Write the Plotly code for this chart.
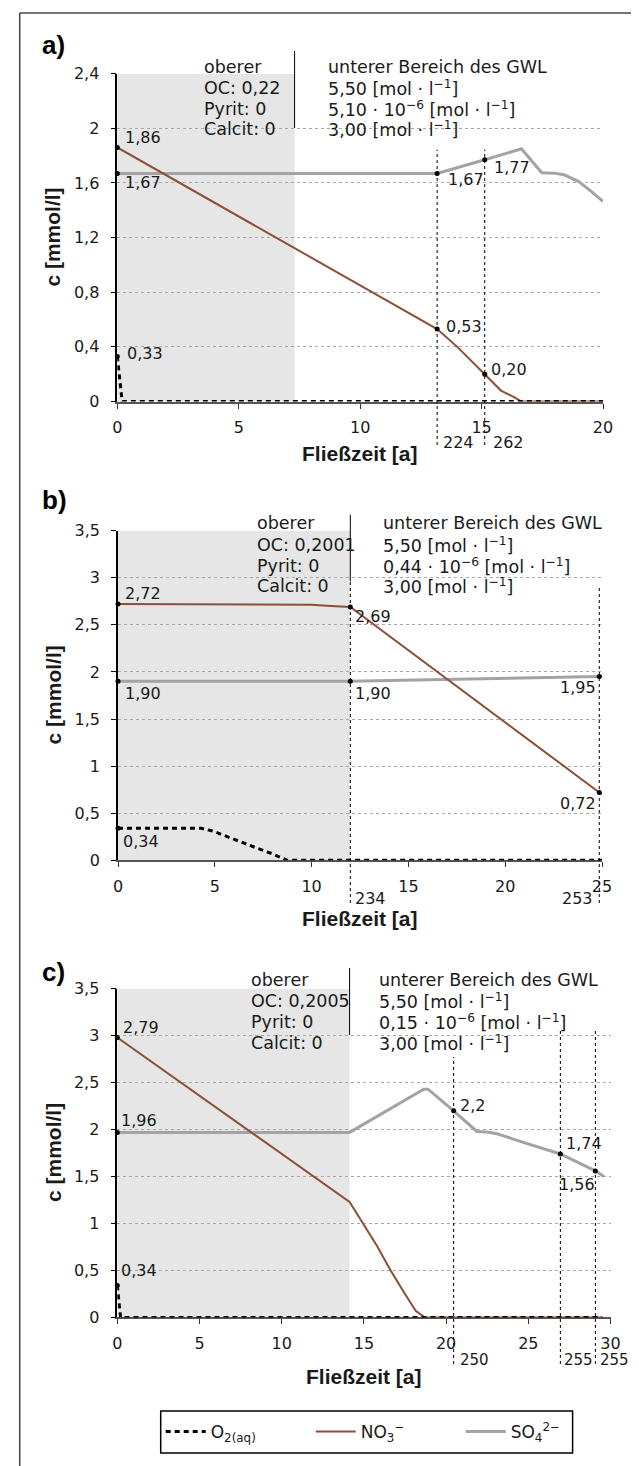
import plotly.graph_objects as go

W, H = 639, 1466
FONT = "DejaVu Sans"
BFONT = "Liberation Sans"

# ---------------- data ----------------
# panel a
a_o2_x = [0, 0.1, 0.2, 20]
a_o2_y = [0.33, 0.15, 0.0, 0.0]
a_no3_x = [0, 13.17, 14.0, 15.13, 15.8, 16.3, 16.65, 20]
a_no3_y = [1.86, 0.53, 0.40, 0.20, 0.08, 0.035, 0.0, 0.0]
a_so4_x = [0, 13.17, 15.13, 16.64, 17.48, 18.0, 18.4, 19.0, 19.5, 20]
a_so4_y = [1.67, 1.67, 1.77, 1.85, 1.675, 1.672, 1.66, 1.61, 1.54, 1.465]
a_pts_x = [0, 0, 0, 13.17, 15.13, 13.17, 15.13]
a_pts_y = [1.86, 1.67, 0.33, 1.67, 1.77, 0.53, 0.20]
a_pts_lbl = ["1,86", "1,67", "0,33", "1,67", "1,77", "0,53", "0,20"]
a_mark_x = [13.17, 15.13]
a_mark_lbl = ["224", "262"]
a_upper_end = 7.3
a_hdr_left = ["oberer", "OC: 0,22", "Pyrit: 0", "Calcit: 0"]
a_hdr_right = ["unterer Bereich des GWL", "5,50 [mol · l<sup>−1</sup>]",
               "5,10 · 10<sup>−6</sup> [mol · l<sup>−1</sup>]", "3,00 [mol · l<sup>−1</sup>]"]

# panel b
b_o2_x = [0, 4.3, 4.9, 5.7, 6.5, 7.25, 8.0, 8.75, 25]
b_o2_y = [0.34, 0.34, 0.31, 0.245, 0.185, 0.123, 0.067, 0.0, 0.0]
b_no3_x = [0, 8.85, 10.0, 11.0, 12.0, 24.86, 25]
b_no3_y = [2.72, 2.72, 2.712, 2.70, 2.69, 0.72, 0.70]
b_so4_x = [0, 12.0, 24.86, 25]
b_so4_y = [1.90, 1.90, 1.95, 1.95]
b_pts_x = [0, 12.0, 0, 12.0, 24.86, 24.86, 0]
b_pts_y = [2.72, 2.69, 1.90, 1.90, 1.95, 0.72, 0.34]
b_pts_lbl = ["2,72", "2,69", "1,90", "1,90", "1,95", "0,72", "0,34"]
b_mark_x = [12.0, 24.86]
b_mark_lbl = ["234", "253"]
b_upper_end = 12.0
b_hdr_left = ["oberer", "OC: 0,2001", "Pyrit: 0", "Calcit: 0"]
b_hdr_right = ["unterer Bereich des GWL", "5,50 [mol · l<sup>−1</sup>]",
               "0,44 · 10<sup>−6</sup> [mol · l<sup>−1</sup>]", "3,00 [mol · l<sup>−1</sup>]"]

# panel c
c_o2_x = [0, 0.1, 0.2, 29.5]
c_o2_y = [0.34, 0.15, 0.0, 0.0]
c_no3_x = [0, 14.13, 15.8, 16.66, 17.5, 18.15, 18.7, 29.5]
c_no3_y = [2.98, 1.23, 0.76, 0.49, 0.25, 0.07, 0.0, 0.0]
c_so4_x = [0, 14.13, 18.64, 18.9, 20.46, 21.87, 22.5, 23.1, 24.84, 26.95, 29.08, 29.6]
c_so4_y = [1.97, 1.97, 2.43, 2.43, 2.20, 1.98, 1.975, 1.955, 1.856, 1.74, 1.56, 1.50]
c_pts_x = [0, 0, 0, 20.46, 26.95, 29.08]
c_pts_y = [2.98, 1.97, 0.34, 2.20, 1.74, 1.56]
c_pts_lbl = ["2,79", "1,96", "0,34", "2,2", "1,74", "1,56"]
c_mark_x = [20.46, 26.95, 29.08]
c_mark_lbl = ["250", "255", "255"]
c_upper_end = 14.13
c_hdr_left = ["oberer", "OC: 0,2005", "Pyrit: 0", "Calcit: 0"]
c_hdr_right = ["unterer Bereich des GWL", "5,50 [mol · l<sup>−1</sup>]",
               "0,15 · 10<sup>−6</sup> [mol · l<sup>−1</sup>]", "3,00 [mol · l<sup>−1</sup>]"]

panel_letters = ["a)", "b)", "c)"]
x_ranges = [20, 25, 30]
y_ranges = [2.4, 3.5, 3.5]
y_dticks = [0.4, 0.5, 0.5]
series_names = ["O<sub>2(aq)</sub>", "NO<sub>3</sub><sup>−</sup>", "SO<sub>4</sub><sup>2−</sup>"]

# ---------------- layout / style (pixels) ----------------
geo = [
    dict(x0=109.3, x1=595.0, y0=65.7, y1=393.5, letter=(32, 37), hdr=(193.6, 318, [58.5, 80, 101, 121]),
         div=(43, 120), dots=[(141.7, 437), (141.7, 437)], mark_y=435, mark_size=16, title_y=446,
         mark_pos=[("left", 4), ("left", 6)],
         lbl_pos=[("left", 6, 10), ("left", 6, -9), ("left", 8, 3), ("left", 9, -6),
                  ("left", 7, -8), ("left", 7, 3), ("left", 4, 5)]),
    dict(x0=110.0, x1=594.0, y0=522.6, y1=852.3, letter=(32, 492), hdr=(246.6, 373, [515, 537, 558, 578]),
         div=(506.7, 573), dots=[(573, 895), (580, 895)], mark_y=890, mark_size=16, title_y=910,
         mark_pos=[("left", 3), ("right", -4)],
         lbl_pos=[("left", 5, 11), ("left", 3, -10), ("left", 5, -12), ("left", 3, -12),
                  ("right", -1, -11), ("right", -1, -11), ("left", 3, -13)]),
    dict(x0=109.3, x1=602.5, y0=980.7, y1=1309.4, letter=(32, 964), hdr=(240.5, 369, [971.7, 993, 1014, 1035]),
         div=(960, 1027), dots=[(1049, 1356), (1022.7, 1356), (1022.7, 1356)], mark_y=1352,
         mark_size=15, title_y=1368,
         mark_pos=[("left", 4), ("left", 2), ("left", 3)],
         lbl_pos=[("left", 4, 10), ("left", 2, 12), ("left", 2, 15), ("left", 4, 5),
                  ("left", 4, 10), ("right", 2, -14)]),
]
LEGEND_BOX = (152.7, 1403, 564.6, 1445)

NO3_COLOR = "#8d4f39"
SO4_COLOR = "#a3a3a3"
TXT = "#1a1a1a"


def fx(px):
    return px / W


def fy(py):
    return 1 - py / H


panels = [
    (a_o2_x, a_o2_y, a_no3_x, a_no3_y, a_so4_x, a_so4_y, a_pts_x, a_pts_y, a_pts_lbl,
     a_mark_x, a_mark_lbl, a_upper_end, a_hdr_left, a_hdr_right),
    (b_o2_x, b_o2_y, b_no3_x, b_no3_y, b_so4_x, b_so4_y, b_pts_x, b_pts_y, b_pts_lbl,
     b_mark_x, b_mark_lbl, b_upper_end, b_hdr_left, b_hdr_right),
    (c_o2_x, c_o2_y, c_no3_x, c_no3_y, c_so4_x, c_so4_y, c_pts_x, c_pts_y, c_pts_lbl,
     c_mark_x, c_mark_lbl, c_upper_end, c_hdr_left, c_hdr_right),
]

fig = go.Figure()
shapes = []
annotations = []
layout_axes = {}

for i, (o2x, o2y, nx, ny, sx, sy, px_, py_, plbl, mx, mlbl, upend, hl, hr) in enumerate(panels):
    g = geo[i]
    sfx = "" if i == 0 else str(i + 1)
    xa, ya = "x" + sfx, "y" + sfx
    first = i == 0

    fig.add_trace(go.Scatter(x=sx, y=sy, mode="lines", xaxis=xa, yaxis=ya, name=series_names[2],
                             line=dict(color=SO4_COLOR, width=3), showlegend=first, legendrank=3,
                             legendgroup="so4", cliponaxis=False, hoverinfo="skip"))
    fig.add_trace(go.Scatter(x=nx, y=ny, mode="lines", xaxis=xa, yaxis=ya, name=series_names[1],
                             line=dict(color=NO3_COLOR, width=2), showlegend=first, legendrank=2,
                             legendgroup="no3", cliponaxis=False, hoverinfo="skip"))
    fig.add_trace(go.Scatter(x=o2x, y=o2y, mode="lines", xaxis=xa, yaxis=ya, name=series_names[0],
                             line=dict(color="black", width=3, dash="5px,4px"), showlegend=first,
                             legendrank=1, legendgroup="o2", cliponaxis=False, hoverinfo="skip"))
    fig.add_trace(go.Scatter(x=px_, y=py_, mode="markers", xaxis=xa, yaxis=ya, showlegend=False,
                             marker=dict(color="black", size=5), cliponaxis=False, hoverinfo="skip"))

    # value labels
    for (vx, vy, t), (anc, dx, dy) in zip(zip(px_, py_, plbl), g["lbl_pos"]):
        annotations.append(dict(x=vx, y=vy, xref=xa, yref=ya, text=t, showarrow=False,
                                xanchor=anc, yanchor="middle", xshift=dx, yshift=dy,
                                font=dict(family=FONT, size=16, color=TXT)))

    # shaded upper zone
    shapes.append(dict(type="rect", xref=xa, yref=ya, x0=0, x1=upend, y0=0, y1=y_ranges[i],
                       fillcolor="#e5e6e5", line=dict(width=0), layer="below"))
    # divider line
    shapes.append(dict(type="line", xref=xa, yref="paper", x0=upend, x1=upend,
                       y0=fy(g["div"][1]), y1=fy(g["div"][0]), line=dict(color="black", width=1)))
    # dotted marker lines and labels
    for (mxv, ml), (top, bot), (anc, dx) in zip(zip(mx, mlbl), g["dots"], g["mark_pos"]):
        shapes.append(dict(type="line", xref=xa, yref="paper", x0=mxv, x1=mxv,
                           y0=fy(bot), y1=fy(top), line=dict(color="black", width=1, dash="dot")))
        annotations.append(dict(x=mxv, y=fy(g["mark_y"]), xref=xa, yref="paper", text=ml,
                                showarrow=False, xanchor=anc, yanchor="middle", xshift=dx,
                                font=dict(family=FONT, size=g["mark_size"], color=TXT)))

    # header text
    hx_l, hx_r, rows = g["hdr"]
    for t, ry in zip(hl, rows):
        annotations.append(dict(x=fx(hx_l), y=fy(ry), xref="paper", yref="paper", text=t,
                                showarrow=False, xanchor="left", yanchor="middle",
                                font=dict(family=FONT, size=17.5, color=TXT)))
    for t, ry in zip(hr, rows):
        annotations.append(dict(x=fx(hx_r), y=fy(ry), xref="paper", yref="paper", text=t,
                                showarrow=False, xanchor="left", yanchor="middle",
                                font=dict(family=FONT, size=17.5, color=TXT)))

    # panel letter
    annotations.append(dict(x=fx(g["letter"][0]), y=fy(g["letter"][1]), xref="paper", yref="paper",
                            text="<b>" + panel_letters[i] + "</b>", showarrow=False, xanchor="left",
                            yanchor="middle", font=dict(family=BFONT, size=26, color="black")))
    # axis titles
    annotations.append(dict(x=fx(45), y=fy((g["y0"] + g["y1"]) / 2), xref="paper", yref="paper",
                            text="<b>c [mmol/l]</b>", showarrow=False, textangle=-90,
                            xanchor="center", yanchor="middle",
                            font=dict(family=BFONT, size=21, color=TXT)))
    annotations.append(dict(x=fx((g["x0"] + g["x1"]) / 2), y=fy(g["title_y"]), xref="paper", yref="paper",
                            text="<b>Fließzeit [a]</b>", showarrow=False, xanchor="center",
                            yanchor="middle", font=dict(family=BFONT, size=21, color=TXT)))

    layout_axes["xaxis" + sfx] = dict(
        domain=[fx(g["x0"]), fx(g["x1"])], range=[0, x_ranges[i]], anchor=ya, dtick=5, tick0=0,
        showgrid=False, zeroline=False, showline=True, linecolor="#555555", linewidth=2,
        ticks="outside", ticklen=5, tickcolor="#333333", tickwidth=1, ticklabelstandoff=5,
        tickfont=dict(family=FONT, size=16, color=TXT), layer="below traces", automargin=False,
        fixedrange=True)
    layout_axes["yaxis" + sfx] = dict(
        domain=[fy(g["y1"]), fy(g["y0"])], range=[0, y_ranges[i]], anchor=xa, dtick=y_dticks[i], tick0=0,
        showgrid=True, gridcolor="#a8a8a8", griddash="dot", gridwidth=1, zeroline=False,
        showline=True, linecolor="black", linewidth=1.5, ticks="outside", ticklen=5,
        tickcolor="black", tickwidth=1, ticklabelstandoff=8,
        tickfont=dict(family=FONT, size=16, color=TXT), layer="below traces", automargin=False,
        fixedrange=True)

# outer frame (left and top edges)
shapes.append(dict(type="line", xref="paper", yref="paper", x0=fx(11.7), x1=fx(11.7), y0=0, y1=fy(5),
                   line=dict(color="#444444", width=1.5)))
shapes.append(dict(type="line", xref="paper", yref="paper", x0=fx(11.7), x1=1, y0=fy(5), y1=fy(5),
                   line=dict(color="#444444", width=1.5)))
# legend frame
lx0, ly0, lx1, ly1 = LEGEND_BOX
shapes.append(dict(type="rect", xref="paper", yref="paper", x0=fx(lx0), x1=fx(lx1), y0=fy(ly1), y1=fy(ly0),
                   line=dict(color="black", width=1.5), fillcolor="rgba(0,0,0,0)"))

fig.update_layout(
    width=W, height=H, margin=dict(l=0, r=0, t=0, b=0), template="none",
    paper_bgcolor="white", plot_bgcolor="white", separators=", ",
    shapes=shapes, annotations=annotations,
    legend=dict(orientation="h", x=fx(lx0), y=fy((ly0 + ly1) / 2), xanchor="left", yanchor="middle",
                bgcolor="rgba(0,0,0,0)", borderwidth=0,
                font=dict(family=FONT, size=17, color=TXT), itemwidth=40,
                entrywidth=95, entrywidthmode="pixels", traceorder="normal"),
    **layout_axes,
)

fig.write_html("out.html")
